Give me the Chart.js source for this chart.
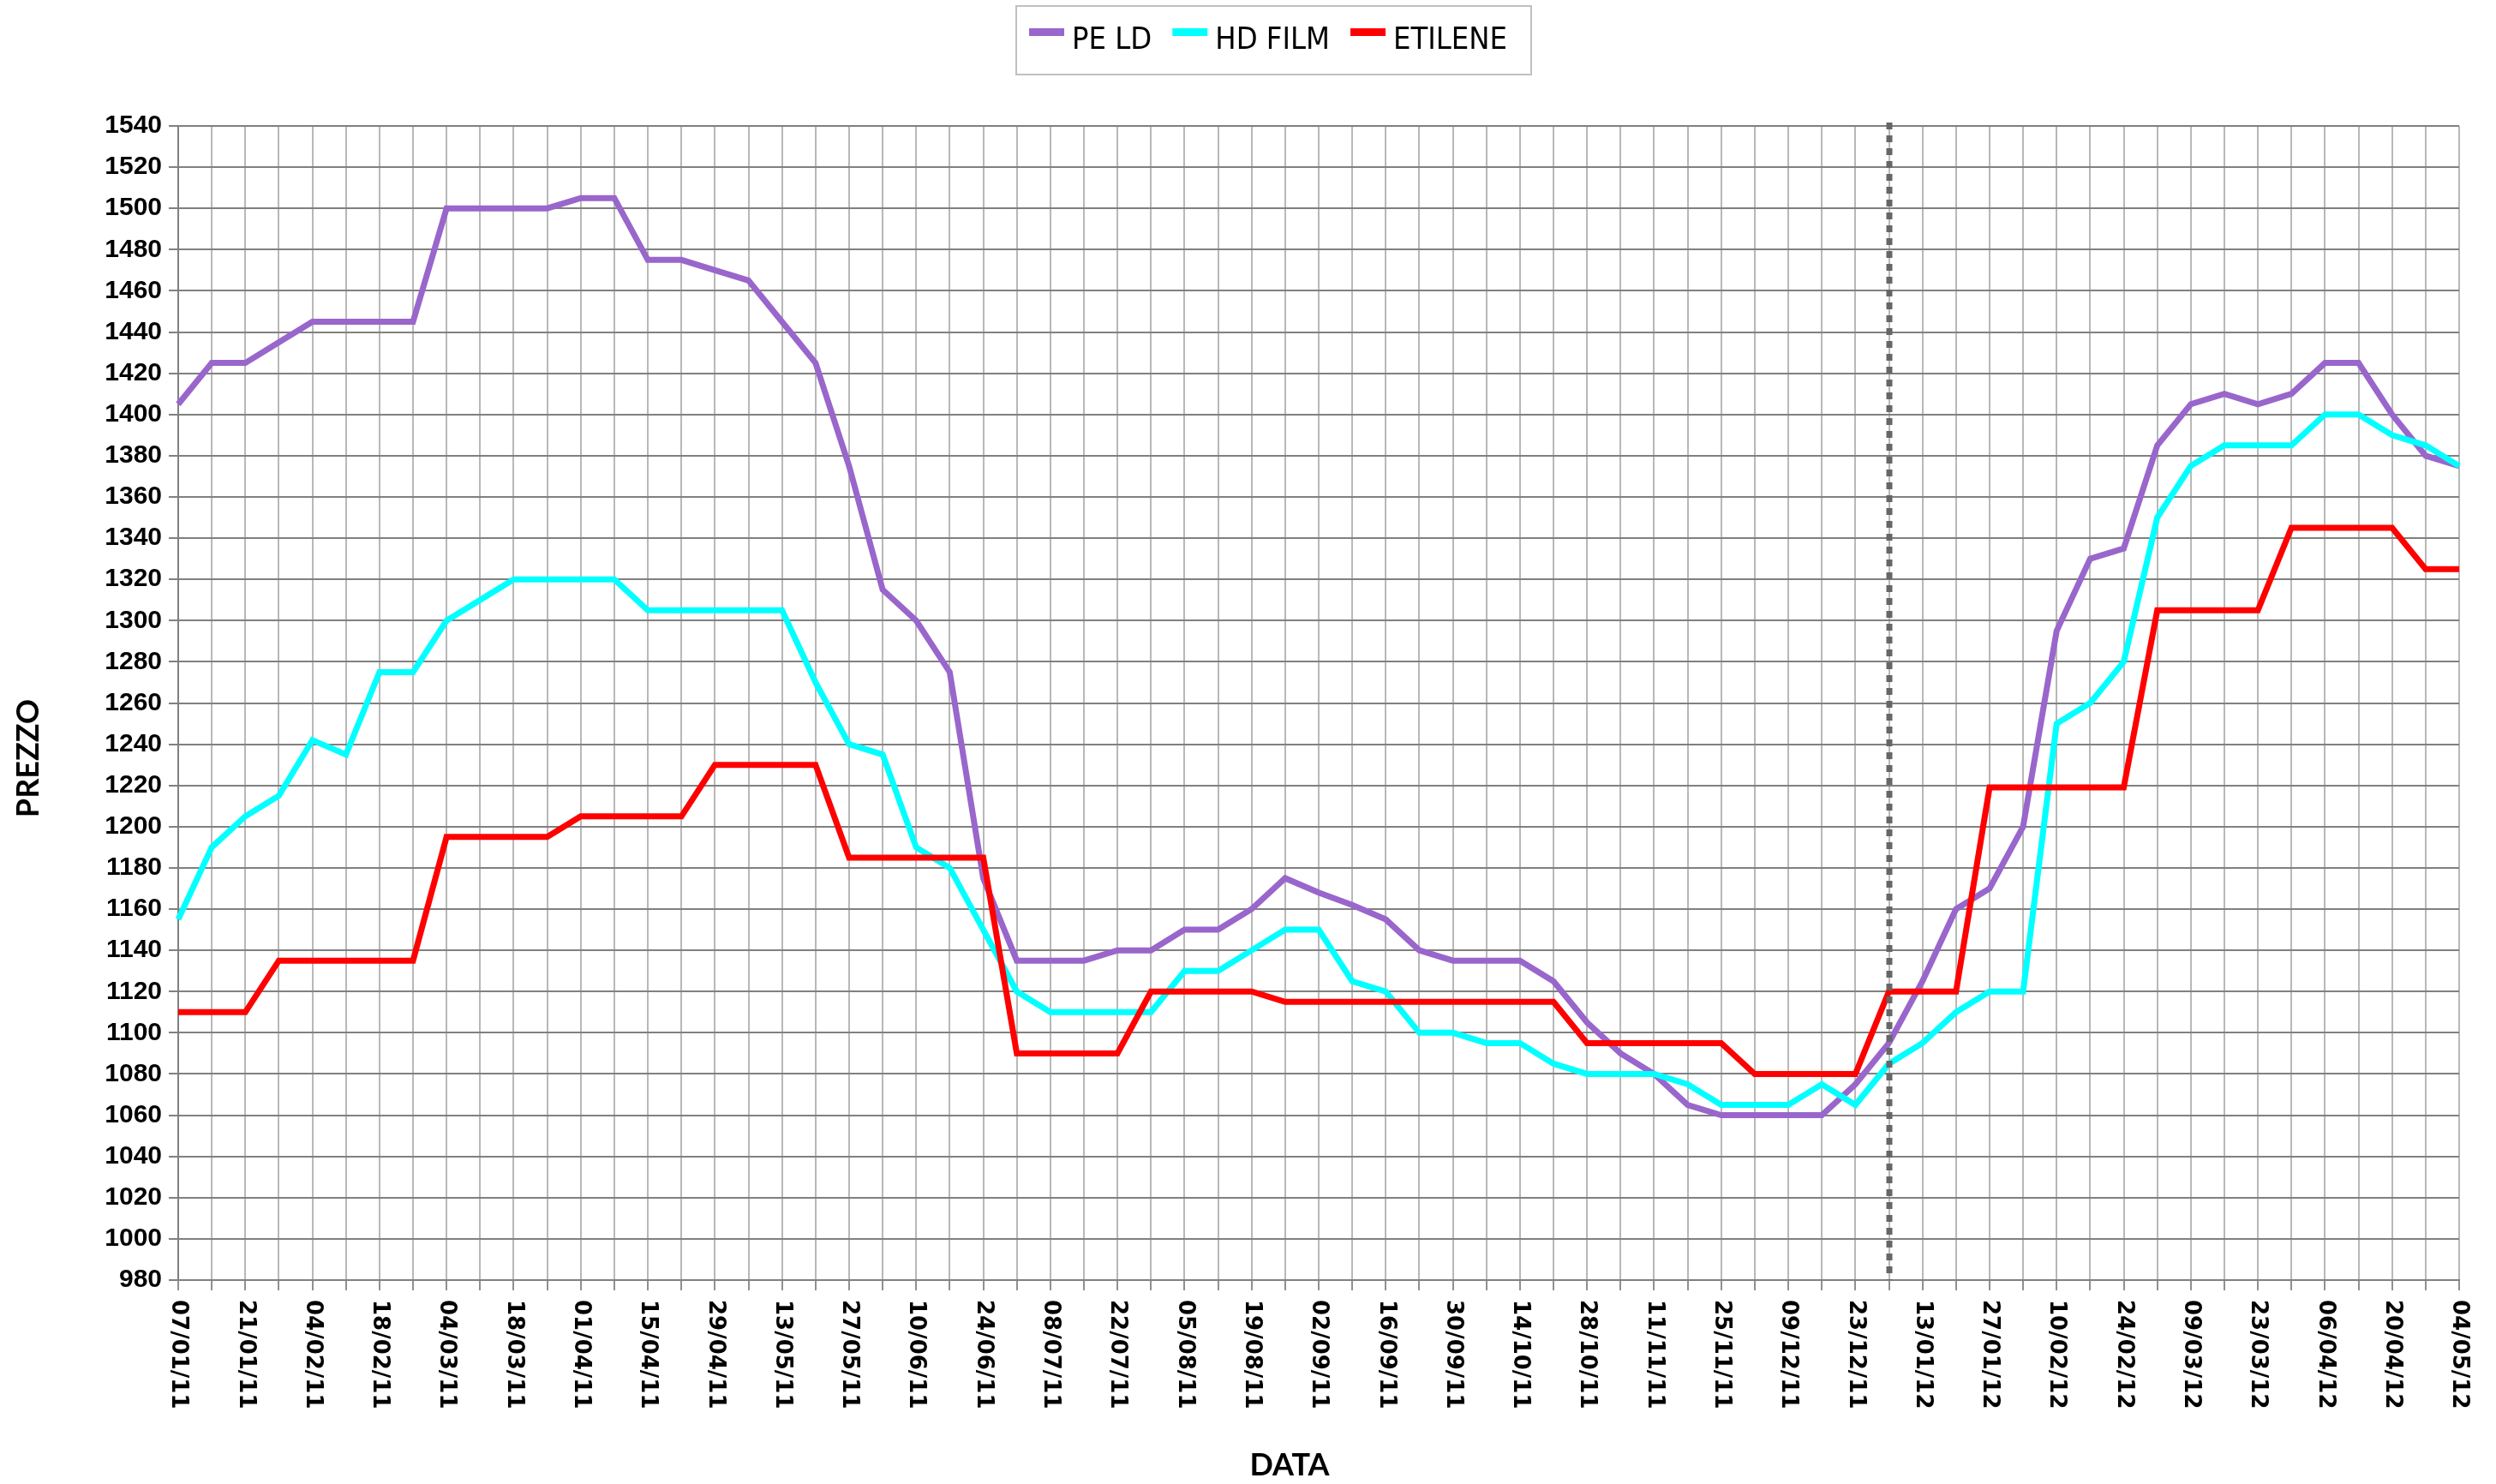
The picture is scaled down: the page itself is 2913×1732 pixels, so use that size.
<!DOCTYPE html>
<html><head><meta charset="utf-8">
<script src="https://cdn.jsdelivr.net/npm/chart.js@4.4.1/dist/chart.umd.min.js"></script>
<style>html,body{margin:0;padding:0;background:#fff;overflow:hidden}canvas{display:block}</style>
</head><body>
<canvas id="c" width="2913" height="1732"></canvas>
<script>
const dates = ['07/01/11','14/01/11','21/01/11','28/01/11','04/02/11','11/02/11','18/02/11','25/02/11',
'04/03/11','11/03/11','18/03/11','25/03/11','01/04/11','08/04/11','15/04/11','22/04/11','29/04/11',
'06/05/11','13/05/11','20/05/11','27/05/11','03/06/11','10/06/11','17/06/11','24/06/11','01/07/11',
'08/07/11','15/07/11','22/07/11','29/07/11','05/08/11','12/08/11','19/08/11','26/08/11','02/09/11',
'09/09/11','16/09/11','23/09/11','30/09/11','07/10/11','14/10/11','21/10/11','28/10/11','04/11/11',
'11/11/11','18/11/11','25/11/11','02/12/11','09/12/11','16/12/11','23/12/11','06/01/12','13/01/12',
'20/01/12','27/01/12','03/02/12','10/02/12','17/02/12','24/02/12','02/03/12','09/03/12','16/03/12',
'23/03/12','30/03/12','06/04/12','13/04/12','20/04/12','27/04/12','04/05/12'];

const peLd = [1405,1425,1425,1435,1445,1445,1445,1445,1500,1500,1500,1500,1505,1505,1475,1475,1470,
1465,1445,1425,1375,1315,1300,1275,1175,1135,1135,1135,1140,1140,1150,1150,1160,1175,1168,1162,1155,
1140,1135,1135,1135,1125,1105,1090,1080,1065,1060,1060,1060,1060,1075,1095,1125,1160,1170,1200,1295,
1330,1335,1385,1405,1410,1405,1410,1425,1425,1400,1380,1375];

const hdFilm = [1155,1190,1205,1215,1242,1235,1275,1275,1300,1310,1320,1320,1320,1320,1305,1305,1305,
1305,1305,1270,1240,1235,1190,1180,1150,1120,1110,1110,1110,1110,1130,1130,1140,1150,1150,1125,1120,
1100,1100,1095,1095,1085,1080,1080,1080,1075,1065,1065,1065,1075,1065,1085,1095,1110,1120,1120,1250,
1260,1280,1350,1375,1385,1385,1385,1400,1400,1390,1385,1375];

const etilene = [1110,1110,1110,1135,1135,1135,1135,1135,1195,1195,1195,1195,1205,1205,1205,1205,1230,
1230,1230,1230,1185,1185,1185,1185,1185,1090,1090,1090,1090,1120,1120,1120,1120,1115,1115,1115,1115,
1115,1115,1115,1115,1115,1095,1095,1095,1095,1095,1080,1080,1080,1080,1120,1120,1120,1219,1219,1219,
1219,1219,1305,1305,1305,1305,1345,1345,1345,1345,1325,1325];

const seriesNames = ['PE LD','HD FILM','ETILENE'];
const seriesColors = ['#9966CC','#00FFFF','#FF0000'];
const yMin = 980, yMax = 1540, yStep = 20;
const dividerDate = '06/01/12';
const xTitle = 'DATA';
const yTitle = 'PREZZO';

const LEGEND_FONT = '36px "DejaVu Sans Condensed", "Liberation Sans Narrow", sans-serif';
const XLABEL_FONT = 'bold 26px "DejaVu Sans", sans-serif';
const TITLE_FONT = 'bold 36px Lato, "DejaVu Sans", sans-serif';

const extras = {
  id: 'extras',
  afterDatasetsDraw(chart) {
    const ctx = chart.ctx, xs = chart.scales.x, area = chart.chartArea;
    const idx = dates.indexOf(dividerDate);
    const x = Math.round(xs.getPixelForValue(idx));
    ctx.save();
    ctx.strokeStyle = '#666666';
    ctx.lineWidth = 7;
    ctx.setLineDash([8, 7]);
    ctx.beginPath();
    ctx.moveTo(x, area.top - 4);
    ctx.lineTo(x, area.bottom);
    ctx.stroke();
    ctx.restore();
  },
  afterDraw(chart) {
    const ctx = chart.ctx, xs = chart.scales.x, area = chart.chartArea;
    ctx.save();
    ctx.font = XLABEL_FONT;
    ctx.fillStyle = '#000';
    ctx.textAlign = 'left';
    ctx.textBaseline = 'middle';
    dates.forEach((d, i) => {
      if (i % 2 !== 0) return;
      const x = xs.getPixelForValue(i);
      ctx.save();
      ctx.translate(x, area.bottom + 23);
      ctx.rotate(Math.PI / 2);
      ctx.fillText(d, 0, 0);
      ctx.restore();
    });
    ctx.font = TITLE_FONT;
    ctx.textAlign = 'center';
    ctx.textBaseline = 'middle';
    ctx.fillText(xTitle, 1505, 1710);
    ctx.save();
    ctx.translate(33, 885);
    ctx.rotate(-Math.PI / 2);
    ctx.fillText(yTitle, 0, 0);
    ctx.restore();
    ctx.font = LEGEND_FONT;
    ctx.textAlign = 'left';
    ctx.textBaseline = 'alphabetic';
    const sw = 41, gapT = 9, gapI = 24;
    let total = 0;
    const widths = seriesNames.map(n => ctx.measureText(n).width);
    widths.forEach((w, i) => { total += sw + gapT + w + (i < widths.length - 1 ? gapI : 0); });
    const cx = 1480;
    let x = cx - total / 2;
    const boxL = x - 15, boxR = x + total + 28;
    ctx.strokeStyle = '#c0c0c0';
    ctx.lineWidth = 2;
    ctx.strokeRect(boxL, 7, boxR - boxL, 80);
    seriesNames.forEach((n, i) => {
      ctx.fillStyle = seriesColors[i];
      ctx.fillRect(x, 33, sw, 9);
      x += sw + gapT;
      ctx.fillStyle = '#000';
      ctx.fillText(n, x, 57);
      x += widths[i] + gapI;
    });
    ctx.restore();
  }
};

const data = {
  labels: dates,
  datasets: [
    { label: seriesNames[0], data: peLd, borderColor: seriesColors[0], backgroundColor: seriesColors[0], order: 3 },
    { label: seriesNames[1], data: hdFilm, borderColor: seriesColors[1], backgroundColor: seriesColors[1], order: 2 },
    { label: seriesNames[2], data: etilene, borderColor: seriesColors[2], backgroundColor: seriesColors[2], order: 1 }
  ].map(d => Object.assign(d, { borderWidth: 7, pointRadius: 0, tension: 0, fill: false }))
};

new Chart(document.getElementById('c'), {
  type: 'line',
  data,
  options: {
    responsive: false,
    devicePixelRatio: 1,
    animation: false,
    layout: { padding: { top: 147, right: 43, left: 0, bottom: 0 } },
    plugins: { legend: { display: false }, tooltip: { enabled: false } },
    scales: {
      x: {
        type: 'category',
        offset: false,
        ticks: { display: false, autoSkip: false },
        grid: { color: '#b8b8b8', lineWidth: 2, tickLength: 12, tickColor: '#909090', drawTicks: true },
        border: { display: true, color: '#808080', width: 2 },
        afterFit(s) { s.height = 238; }
      },
      y: {
        min: yMin, max: yMax,
        ticks: { stepSize: yStep, color: '#000', padding: 8,
          callback: v => String(v),
          font: { family: '"Liberation Sans", Arial, sans-serif', size: 30, weight: 'bold' } },
        grid: { color: '#808080', lineWidth: 2, tickLength: 11 },
        border: { display: true, color: '#808080', width: 2 },
        afterFit(s) { s.width = 208; }
      }
    }
  },
  plugins: [extras]
});
</script>
</body></html>
